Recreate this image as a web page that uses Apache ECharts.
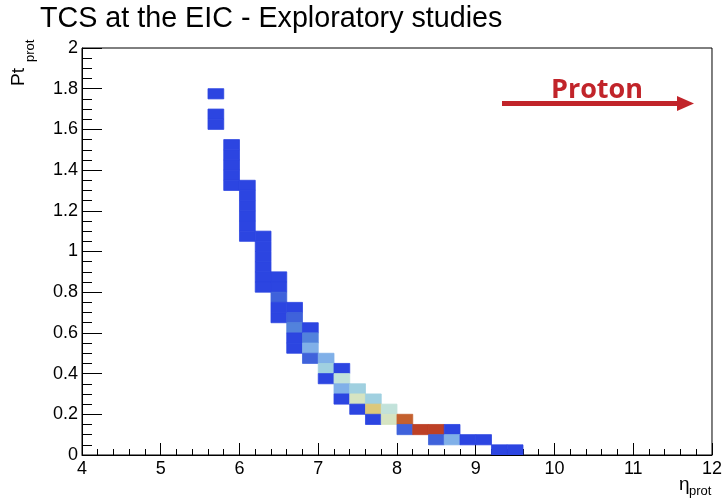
<!DOCTYPE html>
<html>
<head>
<meta charset="utf-8">
<script src="https://cdn.jsdelivr.net/npm/echarts@6/dist/echarts.min.js"></script>
<style>
  html, body { margin: 0; padding: 0; background: #fff; }
  #chart { width: 725px; height: 499px; }
</style>
</head>
<body>
<div id="chart"></div>
<script>
// 2D histogram of proton pseudorapidity vs transverse momentum.
// Each bin is given by its lower eta edge, lower Pt edge and its count.
const BIN_W = 0.2;   // eta bin width
const BIN_H = 0.05;  // Pt bin height

const binEta = [
  5.6, 5.6, 5.6,
  5.8, 5.8, 5.8, 5.8, 5.8,
  6.0, 6.0, 6.0, 6.0, 6.0, 6.0,
  6.2, 6.2, 6.2, 6.2, 6.2, 6.2,
  6.4, 6.4, 6.4, 6.4, 6.4,
  6.6, 6.6, 6.6, 6.6, 6.6,
  6.8, 6.8, 6.8, 6.8,
  7.0, 7.0, 7.0,
  7.2, 7.2, 7.2, 7.2,
  7.4, 7.4, 7.4,
  7.6, 7.6, 7.6,
  7.8, 7.8,
  8.0, 8.0,
  8.2,
  8.4, 8.4,
  8.6, 8.6,
  8.8,
  9.0,
  9.2,
  9.4
];
const binPt = [
  1.75, 1.65, 1.6,
  1.5, 1.45, 1.4, 1.35, 1.3,
  1.3, 1.25, 1.2, 1.15, 1.1, 1.05,
  1.05, 1.0, 0.95, 0.9, 0.85, 0.8,
  0.85, 0.8, 0.75, 0.7, 0.65,
  0.7, 0.65, 0.6, 0.55, 0.5,
  0.6, 0.55, 0.5, 0.45,
  0.45, 0.4, 0.35,
  0.4, 0.35, 0.3, 0.25,
  0.3, 0.25, 0.2,
  0.25, 0.2, 0.15,
  0.2, 0.15,
  0.15, 0.1,
  0.1,
  0.1, 0.05,
  0.1, 0.05,
  0.05,
  0.05,
  0,
  0
];
const binCount = [
  1, 1, 1,
  1, 1, 1, 1, 1,
  1, 1, 1, 1, 1, 1,
  1, 1, 1, 1, 1, 1,
  1, 1, 2, 1, 1,
  1, 2, 3, 1, 1,
  1, 3, 4, 2,
  4, 5, 1,
  1, 6, 4, 1,
  5, 7, 1,
  5, 8, 1,
  6, 7,
  9, 2,
  10,
  10, 2,
  1, 4,
  1,
  1,
  1,
  1
];

const xTicks = { min: 4, max: 12, step: 1 };
const yTicks = { min: 0, max: 2, step: 0.2 };

const palette = ['#2c45e1', '#3f62db', '#5282dc', '#80b0e8', '#a0d0e0',
                 '#c2e2da', '#d6e4c2', '#dcc87a', '#c4602e', '#bd4026'];

const cells = binEta.map((e, i) => [e, binPt[i], binCount[i]]);

const chart = echarts.init(document.getElementById('chart'), null, { renderer: 'canvas' });
const FONT = 'Liberation Sans, Arial, sans-serif';
const RED = '#c1242a';

chart.setOption({
  animation: false,
  backgroundColor: '#fff',
  title: {
    text: 'TCS at the EIC - Exploratory studies',
    left: 35, top: 0,
    textStyle: { fontFamily: FONT, fontSize: 28.7, fontWeight: 'normal', color: '#000' }
  },
  grid: {
    left: 82, right: 13, top: 48, bottom: 44,
    show: true, borderColor: '#000', borderWidth: 1, backgroundColor: 'transparent'
  },
  visualMap: {
    show: false, type: 'continuous', min: 1, max: 10, dimension: 2,
    inRange: { color: palette }
  },
  xAxis: {
    type: 'value', min: xTicks.min, max: xTicks.max, interval: xTicks.step,
    axisLine: { lineStyle: { color: '#000', width: 1 } },
    axisTick: { inside: true, length: 12, lineStyle: { color: '#000' } },
    minorTick: { show: true, splitNumber: 5, length: 6, lineStyle: { color: '#000' } },
    splitLine: { show: false },
    axisLabel: { fontFamily: FONT, fontSize: 18, color: '#000', margin: 5 }
  },
  yAxis: {
    type: 'value', min: yTicks.min, max: yTicks.max, interval: yTicks.step,
    axisLine: { show: true, lineStyle: { color: '#000', width: 1 } },
    axisTick: { show: true, inside: true, length: 20, lineStyle: { color: '#000' } },
    minorTick: { show: true, splitNumber: 4, length: 10, lineStyle: { color: '#000' } },
    splitLine: { show: false },
    axisLabel: { fontFamily: FONT, fontSize: 18, color: '#000', margin: 4 }
  },
  series: [{
    type: 'custom',
    data: cells,
    encode: { x: 0, y: 1 },
    clip: true,
    renderItem: function (params, api) {
      const x0 = api.value(0), y0 = api.value(1);
      const a = api.coord([x0, y0 + BIN_H]);
      const b = api.coord([x0 + BIN_W, y0]);
      const c = api.visual('color');
      return {
        type: 'rect',
        shape: { x: a[0], y: a[1], width: b[0] - a[0], height: b[1] - a[1] },
        style: { fill: c, stroke: c, lineWidth: 0.8 }
      };
    }
  }],
  graphic: [
    // axis titles with subscripts
    { type: 'text', x: 28, y: 86, rotation: Math.PI / 2,
      style: { text: 'Pt', font: '19px ' + FONT, fill: '#000', textAlign: 'left', textVerticalAlign: 'bottom' } },
    { type: 'text', x: 37, y: 62, rotation: Math.PI / 2,
      style: { text: 'prot', font: '13px ' + FONT, fill: '#000', textAlign: 'left', textVerticalAlign: 'bottom' } },
    { type: 'text', x: 679, y: 475,
      style: { text: 'η', font: '19px ' + FONT, fill: '#000', textAlign: 'left', textVerticalAlign: 'top' } },
    { type: 'text', x: 689, y: 485,
      style: { text: 'prot', font: '13px ' + FONT, fill: '#000', textAlign: 'left', textVerticalAlign: 'top' } },
    // beam direction annotation
    { type: 'line', shape: { x1: 502, y1: 103.5, x2: 680, y2: 103.5 },
      style: { stroke: RED, lineWidth: 5 } },
    { type: 'polygon', shape: { points: [[677, 96], [694, 103.5], [677, 111]] },
      style: { fill: RED } },
    { type: 'text', x: 597, y: 104,
      style: { text: 'Proton', font: 'bold 27px "Open Sans", "DejaVu Sans", sans-serif', fill: RED,
               textAlign: 'center', textVerticalAlign: 'bottom' } }
  ]
});
</script>
</body>
</html>
